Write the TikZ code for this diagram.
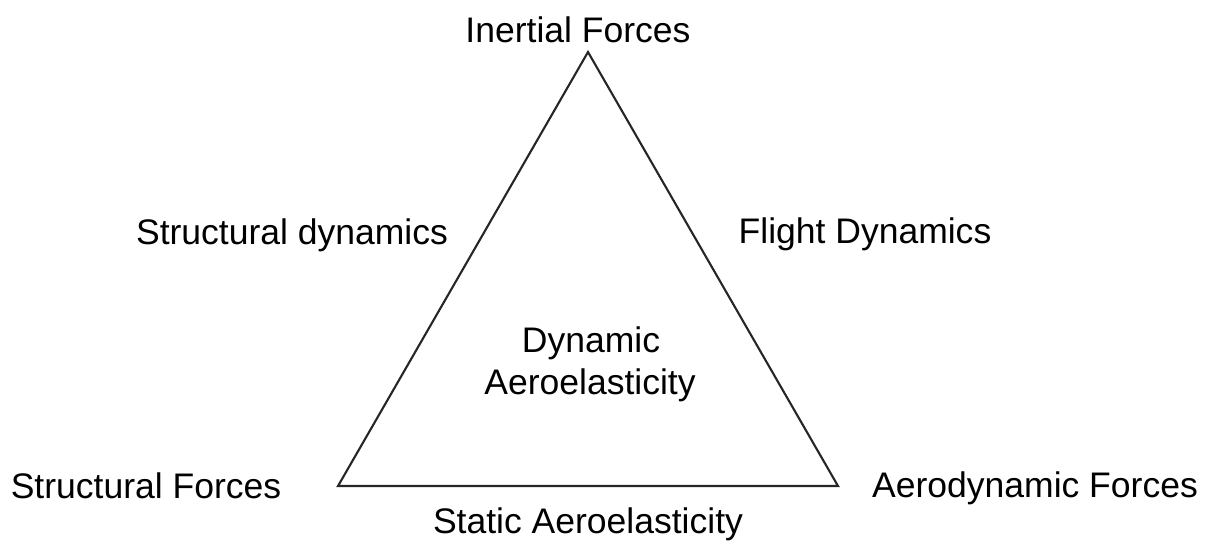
\documentclass[tikz,border=0pt]{standalone}
\usepackage{fontspec}
\setmainfont{Liberation Sans}
\begin{document}
\begin{tikzpicture}[x=0.01cm,y=-0.01cm,
  lbl/.style={inner sep=0pt,anchor=center,font=\fontsize{10.1}{12.5}\selectfont,align=center},
  edge/.style={draw=black!85,line width=0.6pt,line join=miter}]
\useasboundingbox (0,0) rectangle (1212,544);
\coordinate (top) at (588,52);
\coordinate (bl) at (338,486);
\coordinate (br) at (838,486);
\draw[edge] (top) -- (bl) -- (br) -- cycle;
\node[lbl] (inertial) at (578,30) {Inertial Forces};
\node[lbl] (sdyn) at (292,235) {Structural dynamics};
\node[lbl] (fdyn) at (865,234) {Flight Dynamics};
\node[lbl] (dyn) at (591,343) {Dynamic};
\node[lbl] (aeroel) at (590,385) {Aeroelasticity};
\node[lbl] (sforces) at (146,486) {Structural Forces};
\node[lbl] (aforces) at (1035,488) {Aerodynamic Forces};
\node[lbl] (static) at (588,524) {Static Aeroelasticity};
\end{tikzpicture}
\end{document}
